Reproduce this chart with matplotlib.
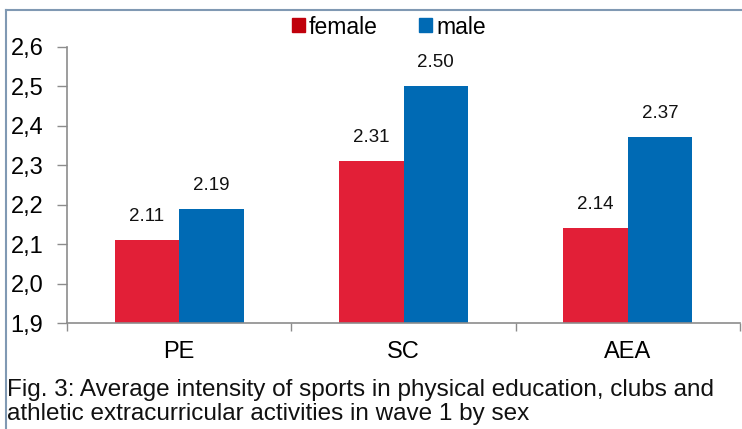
import matplotlib
matplotlib.use("Agg")
import matplotlib.pyplot as plt
import numpy as np
from matplotlib.patches import Patch
from matplotlib.lines import Line2D

plt.rcParams['font.family'] = ['Liberation Sans', 'DejaVu Sans']

categories = ["PE", "SC", "AEA"]
female = [2.11, 2.31, 2.14]
male = [2.19, 2.50, 2.37]
series_names = ["female", "male"]
y_ticks = [1.9, 2.0, 2.1, 2.2, 2.3, 2.4, 2.5, 2.6]
caption_lines = ["Fig. 3: Average intensity of sports in physical education, clubs and",
                 "athletic extracurricular activities in wave 1 by sex"]

female_color = "#E21F37"
male_color = "#006AB4"
female_legend_color = "#C0000B"
spine_color = "#8C8C8C"

W, H = 742, 429
fig = plt.figure(figsize=(W / 100, H / 100), dpi=100)
ax = fig.add_axes([67 / W, 1 - 323 / H, (740 - 67) / W, (323 - 46.7) / H])

x = np.arange(len(categories))
bw = 0.287
ax.bar(x - bw / 2, female, bw, color=female_color, zorder=2)
ax.bar(x + bw / 2, male, bw, color=male_color, zorder=2)

for xs, vals in ((x - bw / 2, female), (x + bw / 2, male)):
    for xi, v in zip(xs, vals):
        ax.annotate(f"{v:.2f}", (xi, v), xytext=(0, 15), textcoords="offset pixels",
                    ha="center", va="bottom", fontsize=13.5, color="#111111")

ax.set_xlim(-0.5, 2.5)
ax.set_ylim(1.9, 2.6)
ax.set_yticks(y_ticks)
ax.set_yticklabels([f"{t:.1f}".replace(".", ",") for t in y_ticks], fontsize=17)
ax.set_xticks(x)
ax.set_xticklabels(categories, fontsize=17)
ax.set_xticks([-0.5, 0.5, 1.5, 2.5], minor=True)
ax.tick_params(axis="x", which="major", length=0, pad=13)
ax.tick_params(axis="x", which="minor", length=6, color=spine_color, width=1)
ax.tick_params(axis="y", length=7, color=spine_color, width=1, pad=10)

for s in ("top", "right"):
    ax.spines[s].set_visible(False)
for s in ("left", "bottom"):
    ax.spines[s].set_color(spine_color)
    ax.spines[s].set_linewidth(1.2)

handles = [Patch(color=female_legend_color), Patch(color=male_color)]
fig.legend(handles, series_names, loc="center", bbox_to_anchor=(389 / W, 1 - 27 / H),
           ncol=2, frameon=False, fontsize=16.5, handlelength=0.57, handleheight=0.57,
           handletextpad=0.17, columnspacing=1.8, borderaxespad=0, borderpad=0)

# two-line figure caption below the plot
for line, baseline in zip(caption_lines, (396, 420)):
    fig.text(7 / W, 1 - baseline / H, line, fontsize=17.5, ha="left", va="baseline",
             color="#111111")

# outer frame lines along top and left edge
border = "#8099B3"
fig.add_artist(Line2D([5.5 / W, 1], [1 - 9.5 / H, 1 - 9.5 / H], color=border, lw=1.5))
fig.add_artist(Line2D([5.5 / W, 5.5 / W], [0, 1 - 9.5 / H], color=border, lw=1.5))

fig.savefig("out.png", dpi=100)
